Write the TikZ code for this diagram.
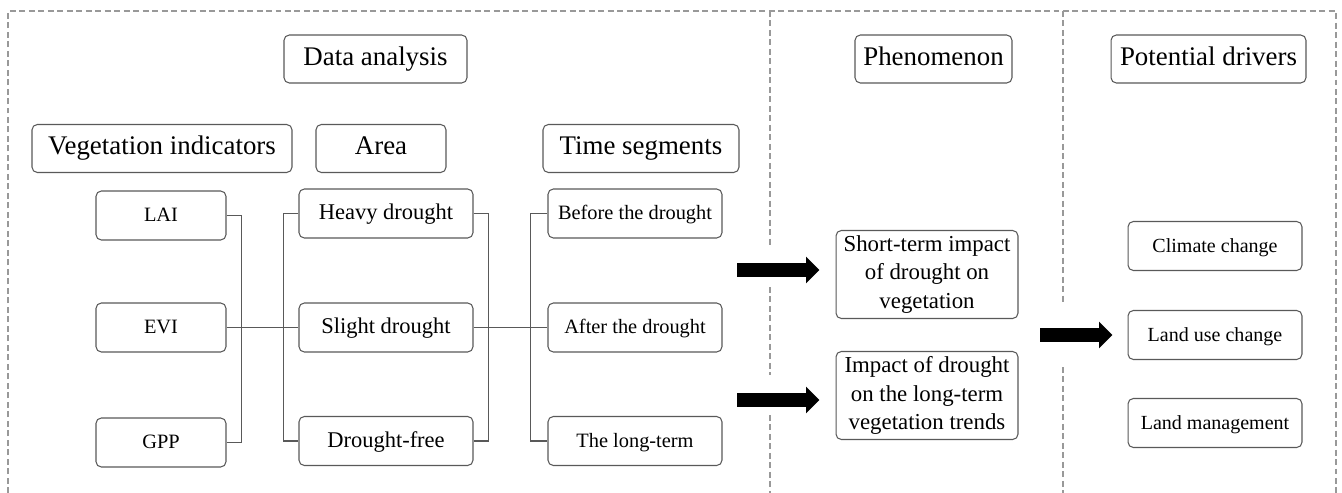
\documentclass[tikz,border=0pt]{standalone}
\usepackage{fontspec}
\setmainfont{Liberation Serif}
\usetikzlibrary{arrows.meta}

\begin{document}
\begin{tikzpicture}[x=0.02cm,y=-0.02cm,
    block_head/.style ={rectangle, rounded corners=3pt, draw=black!65, line width=0.6pt,
      fill=white, minimum height=0.96cm, inner sep=2pt,
      text height=0.8em, text depth=0.1em,
      font=\fontsize{15.3}{18}\selectfont},
    block_item/.style ={rectangle, rounded corners=3pt, draw=black!65, line width=0.6pt,
      fill=white, minimum width=3.48cm, minimum height=0.98cm, inner sep=2pt,
      text height=0.8em, text depth=0.1em,
      font=\fontsize{11.6}{14}\selectfont},
    block_text/.style ={rectangle, rounded corners=3pt, draw=black!65, line width=0.6pt,
      fill=white, minimum width=3.64cm, minimum height=1.76cm, inner sep=2pt,
      align=center, font=\fontsize{13}{16}\selectfont},
    frame/.style ={draw=black!40, line width=0.8pt, dash pattern=on 3.4pt off 2pt},
    line/.style ={draw, black!65, line width=0.6pt},
    bigarrow/.style ={draw, line width=0.28cm,
      -{Triangle[length=0.27cm, width=0.52cm]}}]
    \useasboundingbox (0,0) rectangle (1342,493);
    % dashed frame and column dividers
    \draw[frame] (8,493) -- (8,11) -- (1336,11) -- (1336,493);
    \draw[frame] (770,11) -- (770,245) (770,287) -- (770,375) (770,415) -- (770,493);
    \draw[frame] (1063,11) -- (1063,303) (1063,367) -- (1063,493);
    % headings
    \node [block_head, minimum width=3.66cm] (data) at (375.5,59) {Data analysis};
    \node [block_head, minimum width=5.2cm] (vegind) at (162,148.5) {Vegetation indicators};
    \node [block_head, minimum width=2.6cm] (area) at (381,148.5) {Area};
    \node [block_head, minimum width=3.92cm] (timeseg) at (641,148.5) {Time segments};
    \node [block_head, minimum width=3.14cm] (phen) at (933.5,59) {Phenomenon};
    \node [block_head, minimum width=3.9cm] (drivers) at (1208.5,59) {Potential drivers};
    % vegetation indicators
    \node [block_item, minimum width=2.6cm] (lai) at (161,215.5) {LAI};
    \node [block_item, minimum width=2.6cm] (evi) at (161,327.5) {EVI};
    \node [block_item, minimum width=2.6cm] (gpp) at (161,442.5) {GPP};
    % area
    \node [block_item, font=\fontsize{12.8}{15}\selectfont] (heavy) at (386,213.5) {Heavy drought};
    \node [block_item, font=\fontsize{12.8}{15}\selectfont] (slight) at (386,327.5) {Slight drought};
    \node [block_item, font=\fontsize{12.8}{15}\selectfont] (free) at (386,441) {Drought-free};
    % time segments
    \node [block_item] (before) at (635,213.5) {Before the drought};
    \node [block_item] (after) at (635,327.5) {After the drought};
    \node [block_item] (longterm) at (635,441) {The long-term};
    % phenomenon
    \node [block_text] (short) at (927,274.5) {Short-term impact\\of drought on\\vegetation};
    \node [block_text] (trend) at (927,395.5) {Impact of drought\\on the long-term\\vegetation trends};
    % potential drivers
    \node [block_item, font=\fontsize{11.4}{14}\selectfont] (climate) at (1215,246) {Climate change};
    \node [block_item, font=\fontsize{11.4}{14}\selectfont] (landuse) at (1215,335) {Land use change};
    \node [block_item, font=\fontsize{11.4}{14}\selectfont] (landman) at (1215,423) {Land management};
    % arrow starts
    \coordinate (a1) at (737,270);
    \coordinate (a2) at (737,400);
    \coordinate (a3) at (1040,335);
    \begin{scope}[every path/.style=line]
     \path (lai.east) -- ++(15,0) |- (gpp.east);
     \path (evi) -- (slight);
     \path (heavy.west) -- ++(-15,0) |- (free.west);
     \path (heavy.east) -- ++(15,0) |- (free.east);
     \path (slight) -- (after);
     \path (before.west) -- ++(-17,0) |- (longterm.west);
    \end{scope}
    \draw[bigarrow, shorten >=0.32cm] (a1) -- (a1 -| short.west);
    \draw[bigarrow, shorten >=0.32cm] (a2) -- (a2 -| trend.west);
    \draw[bigarrow, shorten >=0.3cm] (a3) -- (a3 -| landuse.west);
\end{tikzpicture}
\end{document}
